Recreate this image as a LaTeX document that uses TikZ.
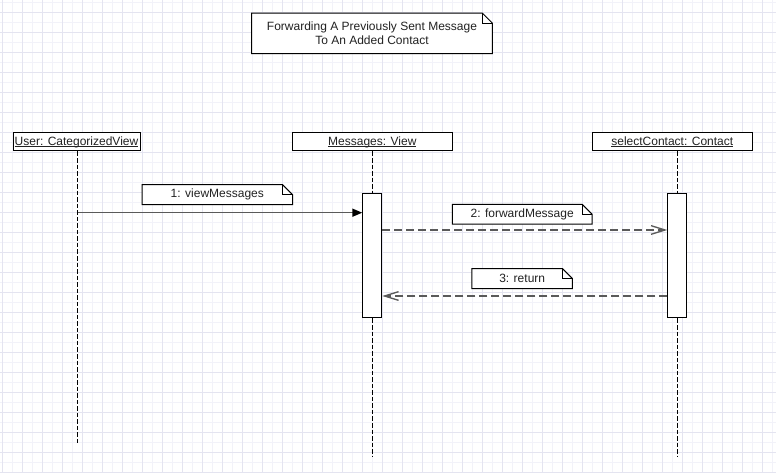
\documentclass[tikz,border=0pt]{standalone}
\usepackage{fontspec}
\setmainfont{Liberation Sans}
\usetikzlibrary{arrows.meta}
\definecolor{gridminor}{HTML}{F2F2F9}
\definecolor{gridmajor}{HTML}{E4E4F0}
\definecolor{msgcol}{HTML}{5A5A5A}
\definecolor{txtcol}{HTML}{222222}
\pgfdeclarelayer{gridlayer}
\pgfdeclarelayer{notebg}
\pgfsetlayers{gridlayer,notebg,main}
\newcommand{\myul}[1]{{\setbox0\hbox{#1}\rlap{\rule[-1.3pt]{\wd0}{0.55pt}}\box0}}
\newcommand{\foldnote}[1]{%
  \begin{pgfonlayer}{notebg}
  \draw[noteline] (#1.south west) -- (#1.north west) -- ([xshift=-7.5pt]#1.north east) -- ([yshift=-7.5pt]#1.north east) -- (#1.south east) -- cycle;
  \draw[line width=0.75pt] ([xshift=-7.5pt]#1.north east) -- ([xshift=-7.5pt,yshift=-7.5pt]#1.north east) -- ([yshift=-7.5pt]#1.north east);
  \end{pgfonlayer}}
\begin{document}
\begin{tikzpicture}[x=0.75pt,y=-0.75pt,
  every node/.style={font=\fontsize{9pt}{10.8pt}\selectfont,text=txtcol},
  head/.style={draw=black,line width=0.75pt,fill=white,inner sep=0pt,minimum height=13.5pt},
  act/.style={draw=black,line width=0.75pt,fill=white,inner sep=0pt,minimum width=14.25pt,minimum height=93pt},
  notebox/.style={inner sep=0pt,align=center},
  noteline/.style={draw=black,line width=0.75pt,fill=white},
  lifeline/.style={black,line width=0.75pt,dash pattern=on 3.4pt off 1.5pt},
  msgline/.style={draw=msgcol,line width=1.1pt},
  callmsg/.style={msgline,-{Triangle[length=7.5pt,width=6pt,fill=black,color=black]}},
  dashmsg/.style={msgline,dash pattern=on 6pt off 3pt,-{Straight Barb[length=10.5pt,width=6.5pt,line width=1pt]}},
]
\useasboundingbox (0,0) rectangle (776,473);
\begin{pgfonlayer}{gridlayer}
\fill[white] (0,0) rectangle (776,473);
\foreach \x in {2,12,...,772} \draw[gridminor,line width=0.75pt] (\x,0) -- (\x,473);
\foreach \y in {3,13,...,473} \draw[gridminor,line width=0.75pt] (0,\y) -- (776,\y);
\foreach \x in {2,22,...,772} \draw[gridmajor,line width=0.75pt] (\x,0) -- (\x,473);
\foreach \y in {13,33,...,473} \draw[gridmajor,line width=0.75pt] (0,\y) -- (776,\y);
\end{pgfonlayer}

% title note
\node[notebox,minimum width=180pt,minimum height=30pt] (title) at (372,33.3) {Forwarding A Previously Sent Message\\To An Added Contact};
\foldnote{title}

% lifeline heads
\node[head,minimum width=95.25pt] (uhead) at (76.5,142) {\myul{User: CategorizedView}};
\node[head,minimum width=120pt] (mhead) at (372.3,142) {\myul{Messages: View}};
\node[head,minimum width=120pt] (shead) at (672.3,142) {\myul{selectContact: Contact}};

% ends of lifelines
\coordinate (uend) at (77.7,443);
\coordinate (mend) at (372.3,457);
\coordinate (send) at (677.3,457);

% activation boxes
\node[act] (mact) at (372.3,256) {};
\node[act] (sact) at (677.3,256) {};

% lifelines
\draw[lifeline] (uend |- uhead.south) -- (uend);
\draw[lifeline] (mhead.south) -- (mact.north);
\draw[lifeline] (mact.south) -- (mend);
\draw[lifeline] (sact |- shead.south) -- (sact.north);
\draw[lifeline] (sact.south) -- (send);

% messages
\coordinate (m1) at (77.7,212.7);
\coordinate (m2) at (382,230);
\coordinate (m3) at (382,296);
\draw[callmsg] (m1) -- (mact.west |- m1);
\draw[dashmsg] (mact.east |- m2) -- (sact.west |- m2);
\draw[dashmsg] (sact.west |- m3) -- (mact.east |- m3);

% message label notes
\node[notebox,minimum width=112.5pt,minimum height=14.5pt] (n1) at (217.3,194.6) {1: viewMessages};
\foldnote{n1}
\node[notebox,minimum width=104.5pt,minimum height=14.5pt] (n2) at (522.2,214.2) {2: forwardMessage};
\foldnote{n2}
\node[notebox,minimum width=75pt,minimum height=14.5pt] (n3) at (522.2,278.6) {3: return};
\foldnote{n3}
\end{tikzpicture}
\end{document}
